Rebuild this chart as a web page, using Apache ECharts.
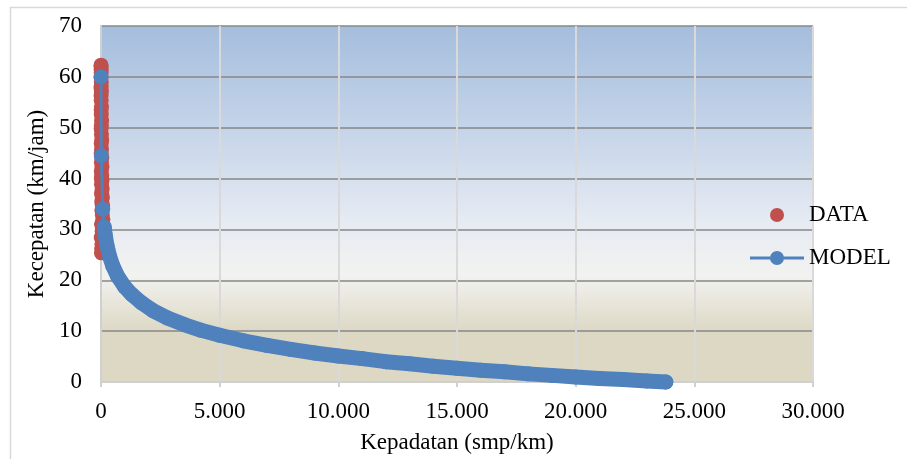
<!DOCTYPE html>
<html>
<head>
<meta charset="utf-8">
<script src="https://cdn.jsdelivr.net/npm/echarts@6/dist/echarts.min.js"></script>
<style>
  html, body { margin: 0; padding: 0; background: #ffffff; }
  #chart { width: 907px; height: 459px; }
</style>
</head>
<body>
<div id="chart"></div>
<script>
// Kepadatan (smp/km) vs Kecepatan (km/jam)
const xTicks = [0, 5000, 10000, 15000, 20000, 25000, 30000];
const yTicks = [0, 10, 20, 30, 40, 50, 60, 70];

// Observed points (DATA)
const dataK = [2, 5, 8, 3, 12, 6, 15, 4, 9, 20, 7, 11, 25, 14, 5, 18, 30, 10, 22, 8,
               35, 16, 40, 13, 28, 45, 19, 50, 24, 60, 33, 70, 38, 55, 80, 42, 65, 48,
               75, 52, 40, 30, 20, 10, 25, 35, 15, 45, 3, 1];
const dataV = [62.3, 61.5, 60.8, 59.9, 59.0, 58.2, 57.1, 56.3, 55.4, 54.2, 53.5, 52.6,
               51.4, 50.5, 49.8, 48.7, 47.6, 46.9, 45.8, 45.0, 44.1, 43.2, 42.3, 41.5,
               40.6, 39.7, 38.9, 38.0, 37.2, 36.3, 35.5, 34.6, 33.7, 32.9, 32.0, 31.2,
               30.5, 29.6, 28.8, 27.9, 27.1, 26.3, 25.4, 28.4, 31.0, 36.8, 40.0, 35.0,
               62.0, 57.8];

// Fitted model (MODEL)
const modelK = [1, 12, 75, 135, 180, 250, 350, 500, 700, 1000, 1300, 1700, 2200, 2800,
                3500, 4200, 5000, 6000, 7000, 8000, 9000, 10000, 11000, 12000, 13000,
                14000, 15000, 16000, 17000, 18000, 19000, 20000, 21000, 22000, 23000, 23800];
const modelV = [60.0, 44.5, 34.0, 30.5, 28.8, 26.9, 24.9, 22.8, 20.8, 18.7, 17.2, 15.6,
                14.0, 12.6, 11.3, 10.2, 9.2, 8.1, 7.2, 6.4, 5.7, 5.1, 4.6, 4.0, 3.6,
                3.1, 2.7, 2.3, 2.0, 1.6, 1.3, 1.0, 0.7, 0.5, 0.2, 0.0];

const RED = '#c0504d';
const BLUE = '#4f81bd';
const FONT = '"Liberation Serif", "Times New Roman", serif';
const FS = 23;

// legend glyph for the model: a 3px line with a round marker in the middle
const LINE_MARKER_ICON = 'path://M0 6H54V9H0Z M20 7.5A7 7 0 1 1 34 7.5A7 7 0 1 1 20 7.5Z';

const dataPts = dataK.map((k, i) => [k, dataV[i]]);
const modelPts = modelK.map((k, i) => [k, modelV[i]]);
// dense part of the model curve where the markers merge into a band
const modelBand = modelPts.slice(3);

const fmtThousands = v => String(v).replace(/\B(?=(\d{3})+(?!\d))/g, '.');

const chart = echarts.init(document.getElementById('chart'), null, { renderer: 'canvas' });

chart.setOption({
  animation: false,
  backgroundColor: '#ffffff',
  textStyle: { fontFamily: FONT, color: '#000' },
  graphic: [{
    type: 'rect',
    shape: { x: 10.5, y: 7.5, width: 920, height: 470 },
    style: { fill: 'none', stroke: '#d9d9d9', lineWidth: 1.5 },
    silent: true,
    z: -10
  }],
  grid: {
    left: 101, right: 94, top: 26, bottom: 77,
    show: true,
    borderWidth: 0,
    backgroundColor: {
      type: 'linear', x: 0, y: 0, x2: 0, y2: 1,
      colorStops: [
        { offset: 0, color: '#a5bedd' },
        { offset: 0.3, color: '#c6d5e9' },
        { offset: 0.55, color: '#e6ebf3' },
        { offset: 0.7, color: '#f2f2f0' },
        { offset: 0.86, color: '#ddd8c4' },
        { offset: 1, color: '#ddd8c4' }
      ]
    }
  },
  legend: {
    orient: 'vertical',
    left: 745,
    top: 198,
    itemWidth: 54,
    itemHeight: 14,
    itemGap: 19,
    textStyle: { fontFamily: FONT, fontSize: FS, lineHeight: 24, color: '#000' },
    data: [
      { name: 'DATA', icon: 'circle' },
      { name: 'MODEL', icon: LINE_MARKER_ICON }
    ]
  },
  xAxis: {
    type: 'value',
    min: xTicks[0],
    max: xTicks[xTicks.length - 1],
    interval: xTicks[1] - xTicks[0],
    name: 'Kepadatan (smp/km)',
    nameLocation: 'middle',
    nameGap: 49,
    nameTextStyle: { fontFamily: FONT, fontSize: FS, color: '#000' },
    axisLine: { show: true, lineStyle: { color: '#d0d0d0', width: 2 } },
    axisTick: { show: true, length: 5, lineStyle: { color: '#d0d0d0', width: 2 } },
    axisLabel: { fontFamily: FONT, fontSize: FS, color: '#000', margin: 18, formatter: fmtThousands },
    splitLine: { show: true, lineStyle: { color: '#d9d9d9', width: 2 } }
  },
  yAxis: {
    type: 'value',
    min: yTicks[0],
    max: yTicks[yTicks.length - 1],
    interval: yTicks[1] - yTicks[0],
    name: 'Kecepatan (km/jam)',
    nameLocation: 'middle',
    nameGap: 52,
    nameTextStyle: { fontFamily: FONT, fontSize: FS, color: '#000' },
    axisLine: { show: true, lineStyle: { color: '#d0d0d0', width: 2 } },
    axisTick: { show: false },
    axisLabel: { fontFamily: FONT, fontSize: FS, color: '#000', margin: 19 },
    splitLine: { show: true, lineStyle: { color: '#878787', width: 1.5 } }
  },
  series: [
    {
      name: 'DATA',
      type: 'scatter',
      data: dataPts,
      symbol: 'circle',
      symbolSize: 15,
      itemStyle: { color: RED, opacity: 1 },
      clip: false,
      z: 2
    },
    {
      name: 'MODEL band',
      type: 'line',
      data: modelBand,
      showSymbol: false,
      lineStyle: { color: BLUE, width: 15, cap: 'round', join: 'round' },
      clip: false,
      silent: true,
      z: 3
    },
    {
      name: 'MODEL',
      type: 'line',
      data: modelPts,
      symbol: 'circle',
      symbolSize: 15,
      showAllSymbol: true,
      itemStyle: { color: BLUE },
      lineStyle: { color: BLUE, width: 3 },
      clip: false,
      z: 4
    }
  ]
});
</script>
</body>
</html>
